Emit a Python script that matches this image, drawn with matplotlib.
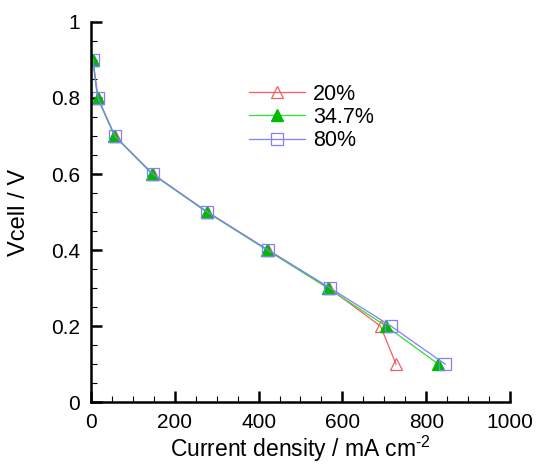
import matplotlib
matplotlib.use("Agg")
import matplotlib.pyplot as plt
from matplotlib.ticker import MultipleLocator

voltage = [0.9, 0.8, 0.7, 0.6, 0.5, 0.4, 0.3, 0.2, 0.1]
cd_20 = [5, 16, 57, 147, 278, 423, 568, 691, 728]
cd_347 = [4, 16, 56, 146, 276, 420, 565, 704, 829]
cd_80 = [5, 17, 57, 148, 278, 423, 571, 716, 845]
labels = ["20%", "34.7%", "80%"]
xticks = [0, 200, 400, 600, 800, 1000]
yticks = [0, 0.2, 0.4, 0.6, 0.8, 1.0]
yticklabels = ["0", "0.2", "0.4", "0.6", "0.8", "1"]

plt.rcParams['font.family'] = ['Liberation Sans', 'DejaVu Sans']
plt.rcParams['mathtext.fontset'] = 'custom'
plt.rcParams['mathtext.rm'] = 'Liberation Sans'

fig = plt.figure(figsize=(5.38, 4.66), dpi=100)
ax = fig.add_axes([0.169, 0.137, 0.779, 0.816])

ax.plot(cd_20, voltage, color='#f06060', lw=0.9, marker='^', ms=9,
        mfc='none', mec='#f06060', mew=0.9, label=labels[0])
ax.plot(cd_347, voltage, color='#33dd33', lw=0.9, marker='^', ms=9,
        mfc='#00bb00', mec='#00bb00', label=labels[1])
ax.plot(cd_80, voltage, color='#8080ff', lw=0.9, marker='s', ms=9,
        mfc='none', mec='#8080ff', mew=0.9, label=labels[2])

ax.set_xlim(0, 1000)
ax.set_ylim(0, 1)
ax.set_xticks(xticks)
ax.set_xticklabels([str(v) for v in xticks])
ax.set_yticks(yticks)
ax.set_yticklabels(yticklabels)
ax.xaxis.set_minor_locator(MultipleLocator(50))
ax.yaxis.set_minor_locator(MultipleLocator(0.05))

for s in ['top', 'right']:
    ax.spines[s].set_visible(False)
for s in ['left', 'bottom']:
    ax.spines[s].set_linewidth(1.8)
ax.tick_params(which='major', direction='in', length=8, width=1.8, labelsize=15, pad=8)
ax.tick_params(which='minor', direction='in', length=4, width=0.8)

ax.set_xlabel("Current density / mA cm$^{\\mathrm{\u2010}\\mathrm{2}}$", fontsize=16.5)
ax.set_ylabel("Vcell / V", fontsize=17)
ax.xaxis.set_label_coords(0.5, -0.083)
ax.yaxis.set_label_coords(-0.145, 0.5)

ax.legend(loc='upper left', bbox_to_anchor=(0.33, 0.888), frameon=False,
          fontsize=15.5, handlelength=2.6, handletextpad=0.4, labelspacing=0.1)

fig.savefig("out.png", dpi=100)
